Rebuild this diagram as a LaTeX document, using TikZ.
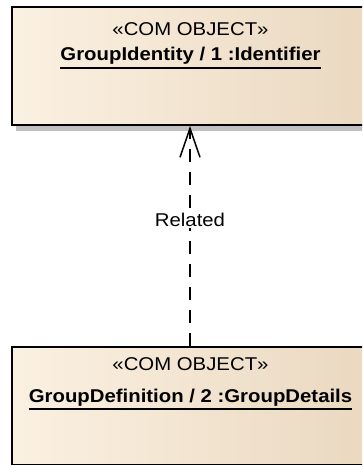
\documentclass[tikz,border=0pt]{standalone}
\usepackage{fontspec}
\setmainfont{Liberation Sans}
\newfontfamily\eafont[FakeStretch=1.1]{Liberation Sans}
\usetikzlibrary{arrows.meta}
\definecolor{boxleft}{RGB}{251,241,226}
\definecolor{boxright}{RGB}{234,216,192}
\definecolor{shadowgray}{RGB}{192,192,192}
\tikzset{
  objbox/.style={draw=black, line width=2pt, left color=boxleft, right color=boxright,
    minimum width=361pt, minimum height=118pt, anchor=north west, inner sep=0pt},
  stereo/.style={font=\eafont\fontsize{18.5}{21}\selectfont, inner sep=0pt, anchor=base},
  objname/.style={font=\eafont\bfseries\fontsize{18.5}{21}\selectfont, inner sep=0pt, anchor=base},
  ul/.style={line width=1.5pt},
  rel/.style={line width=1.5pt, dash pattern=on 13pt off 10pt,
    -{Straight Barb[length=29pt, width=20pt, line width=1.5pt]}},
  lbl/.style={font=\eafont\fontsize{18.5}{21}\selectfont, fill=white, inner sep=2pt}
}
\begin{document}
\begin{tikzpicture}[x=1pt,y=-1pt]
\useasboundingbox (0,0) rectangle (362,465);
\clip (0,0) rectangle (362,465);
% top object
\fill[shadowgray] (16,124) rectangle (380,131);
\node[objbox] (top) at (11,6) {};
\node[stereo] (s1) at (190.5,36) {«COM OBJECT»};
\node[objname] (n1) at (190.5,61) {GroupIdentity / 1 :Identifier};
\draw[ul] ([yshift=-7pt]n1.base west) -- ([yshift=-7pt]n1.base east);
% bottom object
\node[objbox] (bot) at (11,346) {};
\node[stereo] (s2) at (190.5,370.5) {«COM OBJECT»};
\node[objname] (n2) at (190.5,402) {GroupDefinition / 2 :GroupDetails};
\draw[ul] ([yshift=-7pt]n2.base west) -- ([yshift=-7pt]n2.base east);
% connector
\draw[rel] (bot.north -| 190,0) -- node[lbl, pos=0.575] (r) {Related} (top.south -| 190,0);
\end{tikzpicture}
\end{document}
